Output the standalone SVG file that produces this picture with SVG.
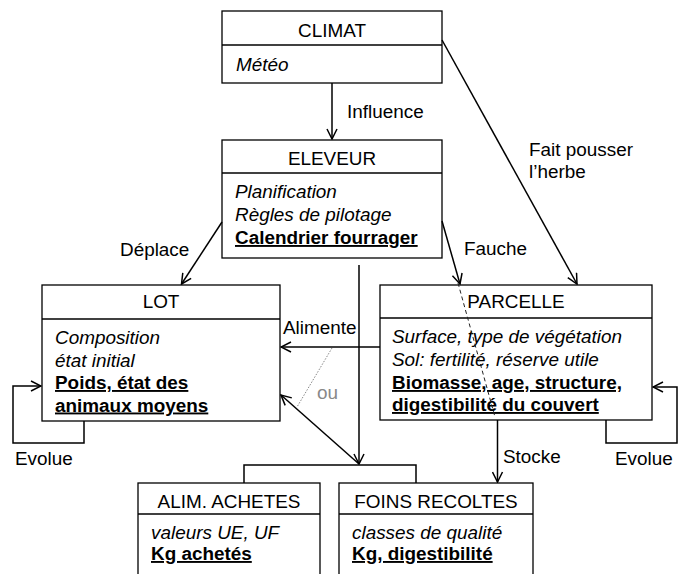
<svg xmlns="http://www.w3.org/2000/svg" width="687" height="574" viewBox="0 0 687 574">
<style>
text{font-family:"Liberation Sans",Arial,sans-serif;font-size:18.9px;fill:#000}
.t{text-anchor:middle}
.i{font-style:italic}
.b{font-weight:bold;text-decoration:underline}
.box{fill:#fff;stroke:#000;stroke-width:1.3}
.ln{fill:none;stroke:#000;stroke-width:1.5}
.ar{marker-end:url(#arr)}
.grey{fill:#888}
</style>
<defs>
<marker id="arr" markerUnits="userSpaceOnUse" viewBox="0 0 12 12" refX="11" refY="6" markerWidth="12" markerHeight="12" orient="auto">
<path d="M1,1 L11,6 L1,11" fill="none" stroke="#000" stroke-width="1.5"/>
</marker>
</defs>
<rect width="687" height="574" fill="#fff"/>
<g id="climat">
<rect class="box" x="222" y="11" width="220" height="72"/>
<line class="box" x1="222" y1="45" x2="442" y2="45"/>
<text class="t" x="332" y="37">CLIMAT</text>
<text class="i" x="236" y="71">Météo</text>
</g>
<g id="eleveur">
<rect class="box" x="222" y="140" width="220" height="118"/>
<line class="box" x1="222" y1="173" x2="442" y2="173"/>
<text class="t" x="332" y="165">ELEVEUR</text>
<text class="i" x="235" y="197.5">Planification</text>
<text class="i" x="235" y="221">Règles de pilotage</text>
<text class="b" x="235" y="244">Calendrier fourrager</text>
</g>
<g id="lot">
<rect class="box" x="42" y="285" width="238" height="136"/>
<line class="box" x1="42" y1="319" x2="280" y2="319"/>
<text class="t" x="161" y="308">LOT</text>
<text class="i" x="55" y="344">Composition</text>
<text class="i" x="55" y="366.5">état initial</text>
<text class="b" x="55" y="389">Poids, état des</text>
<text class="b" x="55" y="411.5">animaux moyens</text>
</g>
<g id="parcelle">
<rect class="box" x="380" y="285" width="272" height="135"/>
<line class="box" x1="380" y1="318" x2="652" y2="318"/>
<text class="t" x="516" y="308">PARCELLE</text>
<text class="i" x="392" y="343">Surface, type de végétation</text>
<text class="i" x="392" y="366">Sol: fertilité, réserve utile</text>
<text class="b" x="392" y="389">Biomasse, age, structure,</text>
<text class="b" x="392" y="411">digestibilité du couvert</text>
</g>
<g id="alim">
<rect class="box" x="138" y="483" width="182" height="110"/>
<line class="box" x1="138" y1="514" x2="320" y2="514"/>
<text class="t" x="229" y="508">ALIM. ACHETES</text>
<text class="i" x="151" y="539">valeurs UE, UF</text>
<text class="b" x="151" y="560">Kg achetés</text>
</g>
<g id="foins">
<rect class="box" x="339" y="483" width="194" height="110"/>
<line class="box" x1="339" y1="514" x2="533" y2="514"/>
<text class="t" x="436" y="508">FOINS RECOLTES</text>
<text class="i" x="352" y="539">classes de qualité</text>
<text class="b" x="352" y="560">Kg, digestibilité</text>
</g>
<g id="connectors">
<line class="ln ar" x1="332" y1="83" x2="332" y2="139"/>
<line class="ln ar" x1="442" y1="40" x2="577" y2="284"/>
<line class="ln ar" x1="222" y1="222" x2="181.5" y2="284"/>
<line class="ln ar" x1="442" y1="221" x2="460" y2="284"/>
<line class="ln ar" x1="359" y1="265" x2="359" y2="464"/>
<line class="ln ar" x1="380" y1="347" x2="281" y2="347"/>
<line class="ln ar" x1="359" y1="464" x2="281" y2="395"/>
<line x1="332" y1="348" x2="297" y2="407" stroke="#888" stroke-width="1" stroke-dasharray="1.5 1.5"/>
<line x1="458" y1="283" x2="495" y2="417" stroke="#222" stroke-width="1" stroke-dasharray="4 3"/>
<polyline class="ln ar" points="84,421 84,443 13,443 13,386 41,386"/>
<polyline class="ln ar" points="606,420 606,443 677,443 677,387 653,387"/>
<line class="ln ar" x1="497.5" y1="420" x2="497.5" y2="482"/>
<polyline class="ln" points="244,483 244,465 416,465 416,483"/>
<text x="347" y="118">Influence</text>
<text x="529" y="156">Fait pousser</text>
<text x="529" y="178">l’herbe</text>
<text x="120" y="256">Déplace</text>
<text x="464" y="255">Fauche</text>
<text x="283" y="334">Alimente</text>
<text class="grey" x="317" y="399">ou</text>
<text x="503" y="463">Stocke</text>
<text x="15" y="465">Evolue</text>
<text x="615" y="465">Evolue</text>
</g>
</svg>
